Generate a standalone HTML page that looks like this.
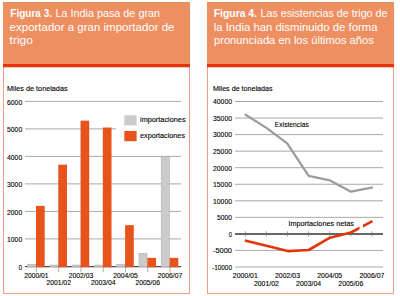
<!DOCTYPE html>
<html><head><meta charset="utf-8"><style>
html,body{margin:0;padding:0;background:#fff;width:400px;height:296px;overflow:hidden}
svg{display:block;font-family:"Liberation Sans", sans-serif}
</style></head><body>
<svg width="400" height="296" viewBox="0 0 400 296">
<rect x="3.5" y="66.5" width="186" height="227.0" fill="none" stroke="#f0a08a" stroke-width="1"/>
<rect x="3" y="2" width="187" height="62" fill="#ee8f62"/>
<rect x="3" y="64" width="187" height="3.3" fill="#e2350c"/>
<rect x="207.5" y="66.5" width="186" height="227.0" fill="none" stroke="#f0a08a" stroke-width="1"/>
<rect x="207" y="2" width="187" height="62" fill="#ee8f62"/>
<rect x="207" y="64" width="187" height="3.3" fill="#e2350c"/>
<text x="10.3" y="16.8" font-size="10.8" font-weight="bold" fill="#fff" text-anchor="start" textLength="41.7" lengthAdjust="spacingAndGlyphs">Figura 3.</text>
<text x="55.5" y="16.8" font-size="10.8" font-weight="normal" fill="#fff" text-anchor="start" textLength="104.5" lengthAdjust="spacingAndGlyphs">La India pasa de gran</text>
<text x="9.6" y="30.9" font-size="10.8" font-weight="normal" fill="#fff" text-anchor="start" textLength="164.9" lengthAdjust="spacingAndGlyphs">exportador a gran importador de</text>
<text x="9.6" y="44.3" font-size="10.8" font-weight="normal" fill="#fff" text-anchor="start" textLength="23.3" lengthAdjust="spacingAndGlyphs">trigo</text>
<text x="213.75" y="16.8" font-size="10.8" font-weight="bold" fill="#fff" text-anchor="start" textLength="43.25" lengthAdjust="spacingAndGlyphs">Figura 4.</text>
<text x="260.5" y="16.8" font-size="10.8" font-weight="normal" fill="#fff" text-anchor="start" textLength="127" lengthAdjust="spacingAndGlyphs">Las esistencias de trigo de</text>
<text x="213.75" y="30.9" font-size="10.8" font-weight="normal" fill="#fff" text-anchor="start" textLength="163.75" lengthAdjust="spacingAndGlyphs">la India han disminuido de forma</text>
<text x="214" y="44.3" font-size="10.8" font-weight="normal" fill="#fff" text-anchor="start" textLength="159.75" lengthAdjust="spacingAndGlyphs">pronunciada en los últimos años</text>
<text x="7" y="91.1" font-size="8" font-weight="normal" fill="#000" text-anchor="start" stroke="#000" stroke-width="0.12" textLength="60.6" lengthAdjust="spacingAndGlyphs">Miles de toneladas</text>
<text x="22.2" y="269.59999999999997" font-size="7.6" font-weight="normal" fill="#000" text-anchor="end" stroke="#000" stroke-width="0.12" textLength="3.6" lengthAdjust="spacingAndGlyphs">0</text>
<line x1="25" y1="238.89999999999998" x2="181" y2="238.89999999999998" stroke="#a9a9a9" stroke-width="1"/>
<text x="22.2" y="242.09999999999997" font-size="7.6" font-weight="normal" fill="#000" text-anchor="end" stroke="#000" stroke-width="0.12" textLength="15.2" lengthAdjust="spacingAndGlyphs">1000</text>
<line x1="25" y1="211.39999999999998" x2="181" y2="211.39999999999998" stroke="#a9a9a9" stroke-width="1"/>
<text x="22.2" y="214.59999999999997" font-size="7.6" font-weight="normal" fill="#000" text-anchor="end" stroke="#000" stroke-width="0.12" textLength="15.2" lengthAdjust="spacingAndGlyphs">2000</text>
<line x1="25" y1="183.89999999999998" x2="181" y2="183.89999999999998" stroke="#a9a9a9" stroke-width="1"/>
<text x="22.2" y="187.09999999999997" font-size="7.6" font-weight="normal" fill="#000" text-anchor="end" stroke="#000" stroke-width="0.12" textLength="15.2" lengthAdjust="spacingAndGlyphs">3000</text>
<line x1="25" y1="156.39999999999998" x2="181" y2="156.39999999999998" stroke="#a9a9a9" stroke-width="1"/>
<text x="22.2" y="159.59999999999997" font-size="7.6" font-weight="normal" fill="#000" text-anchor="end" stroke="#000" stroke-width="0.12" textLength="15.2" lengthAdjust="spacingAndGlyphs">4000</text>
<line x1="25" y1="128.89999999999998" x2="181" y2="128.89999999999998" stroke="#a9a9a9" stroke-width="1"/>
<text x="22.2" y="132.09999999999997" font-size="7.6" font-weight="normal" fill="#000" text-anchor="end" stroke="#000" stroke-width="0.12" textLength="15.2" lengthAdjust="spacingAndGlyphs">5000</text>
<line x1="25" y1="101.39999999999998" x2="181" y2="101.39999999999998" stroke="#a9a9a9" stroke-width="1"/>
<text x="22.2" y="104.59999999999998" font-size="7.6" font-weight="normal" fill="#000" text-anchor="end" stroke="#000" stroke-width="0.12" textLength="15.2" lengthAdjust="spacingAndGlyphs">6000</text>
<rect x="116" y="110" width="65" height="34" fill="#fff"/>
<rect x="124.3" y="115.3" width="12.3" height="10.1" fill="#cbcbcb"/>
<rect x="124.3" y="131" width="12.3" height="10.2" fill="#e8531c"/>
<text x="140" y="122.2" font-size="7.6" font-weight="normal" fill="#000" text-anchor="start" stroke="#000" stroke-width="0.12" textLength="45.6" lengthAdjust="spacingAndGlyphs">importaciones</text>
<text x="140" y="138.0" font-size="7.6" font-weight="normal" fill="#000" text-anchor="start" stroke="#000" stroke-width="0.12" textLength="45.0" lengthAdjust="spacingAndGlyphs">exportaciones</text>
<line x1="25" y1="266.6" x2="181" y2="266.6" stroke="#4a4a4a" stroke-width="1.4"/>
<line x1="36.4" y1="267.3" x2="36.4" y2="272.3" stroke="#8a8a8a" stroke-width="0.7"/>
<rect x="27.6" y="264.22499999999997" width="8.1" height="2.675000000000034" fill="#cbcbcb" stroke="#b0b0b0" stroke-width="0.6"/>
<rect x="36.0" y="205.89999999999998" width="8.7" height="61.30000000000001" fill="#e8531c"/>
<text x="36.4" y="277.5" font-size="7.6" font-weight="normal" fill="#000" text-anchor="middle" stroke="#000" stroke-width="0.12" textLength="24.5" lengthAdjust="spacingAndGlyphs">2000/01</text>
<line x1="58.67" y1="267.3" x2="58.67" y2="272.3" stroke="#8a8a8a" stroke-width="0.7"/>
<rect x="49.870000000000005" y="265.05" width="8.1" height="1.8499999999999885" fill="#cbcbcb" stroke="#b0b0b0" stroke-width="0.6"/>
<rect x="58.27" y="164.64999999999998" width="8.7" height="102.55000000000001" fill="#e8531c"/>
<text x="58.67" y="285.3" font-size="7.6" font-weight="normal" fill="#000" text-anchor="middle" stroke="#000" stroke-width="0.12" textLength="24.5" lengthAdjust="spacingAndGlyphs">2001/02</text>
<line x1="80.94" y1="267.3" x2="80.94" y2="272.3" stroke="#8a8a8a" stroke-width="0.7"/>
<rect x="72.13999999999999" y="265.05" width="8.1" height="1.8499999999999885" fill="#cbcbcb" stroke="#b0b0b0" stroke-width="0.6"/>
<rect x="80.53999999999999" y="120.64999999999998" width="8.7" height="146.55" fill="#e8531c"/>
<text x="80.94" y="277.5" font-size="7.6" font-weight="normal" fill="#000" text-anchor="middle" stroke="#000" stroke-width="0.12" textLength="24.5" lengthAdjust="spacingAndGlyphs">2002/03</text>
<line x1="103.21000000000001" y1="267.3" x2="103.21000000000001" y2="272.3" stroke="#8a8a8a" stroke-width="0.7"/>
<rect x="94.41" y="265.05" width="8.1" height="1.8499999999999885" fill="#cbcbcb" stroke="#b0b0b0" stroke-width="0.6"/>
<rect x="102.81" y="127.52499999999998" width="8.7" height="139.675" fill="#e8531c"/>
<text x="103.21000000000001" y="285.3" font-size="7.6" font-weight="normal" fill="#000" text-anchor="middle" stroke="#000" stroke-width="0.12" textLength="24.5" lengthAdjust="spacingAndGlyphs">2003/04</text>
<line x1="125.47999999999999" y1="267.3" x2="125.47999999999999" y2="272.3" stroke="#8a8a8a" stroke-width="0.7"/>
<rect x="116.67999999999998" y="264.22499999999997" width="8.1" height="2.675000000000034" fill="#cbcbcb" stroke="#b0b0b0" stroke-width="0.6"/>
<rect x="125.07999999999998" y="225.14999999999998" width="8.7" height="42.05000000000001" fill="#e8531c"/>
<text x="125.47999999999999" y="277.5" font-size="7.6" font-weight="normal" fill="#000" text-anchor="middle" stroke="#000" stroke-width="0.12" textLength="24.5" lengthAdjust="spacingAndGlyphs">2004/05</text>
<line x1="147.75" y1="267.3" x2="147.75" y2="272.3" stroke="#8a8a8a" stroke-width="0.7"/>
<rect x="138.95000000000002" y="253.36249999999998" width="8.1" height="13.537500000000017" fill="#cbcbcb" stroke="#b0b0b0" stroke-width="0.6"/>
<rect x="147.35" y="257.875" width="8.7" height="9.324999999999989" fill="#e8531c"/>
<text x="147.75" y="285.3" font-size="7.6" font-weight="normal" fill="#000" text-anchor="middle" stroke="#000" stroke-width="0.12" textLength="24.5" lengthAdjust="spacingAndGlyphs">2005/06</text>
<line x1="170.02" y1="267.3" x2="170.02" y2="272.3" stroke="#8a8a8a" stroke-width="0.7"/>
<rect x="161.22000000000003" y="156.7" width="8.1" height="110.20000000000002" fill="#cbcbcb" stroke="#b0b0b0" stroke-width="0.6"/>
<rect x="169.62" y="257.875" width="8.7" height="9.324999999999989" fill="#e8531c"/>
<text x="170.02" y="277.5" font-size="7.6" font-weight="normal" fill="#000" text-anchor="middle" stroke="#000" stroke-width="0.12" textLength="24.5" lengthAdjust="spacingAndGlyphs">2006/07</text>
<text x="213" y="91.1" font-size="8" font-weight="normal" fill="#000" text-anchor="start" stroke="#000" stroke-width="0.12" textLength="59.6" lengthAdjust="spacingAndGlyphs">Miles de toneladas</text>
<line x1="235" y1="267.0" x2="383" y2="267.0" stroke="#a9a9a9" stroke-width="1"/>
<text x="232" y="269.8" font-size="7.6" font-weight="normal" fill="#000" text-anchor="end" stroke="#000" stroke-width="0.12" textLength="20" lengthAdjust="spacingAndGlyphs">-10000</text>
<line x1="235" y1="250.45000000000002" x2="383" y2="250.45000000000002" stroke="#a9a9a9" stroke-width="1"/>
<text x="232" y="253.25000000000003" font-size="7.6" font-weight="normal" fill="#000" text-anchor="end" stroke="#000" stroke-width="0.12" textLength="19" lengthAdjust="spacingAndGlyphs">-5000</text>
<text x="232" y="236.70000000000002" font-size="7.6" font-weight="normal" fill="#000" text-anchor="end" stroke="#000" stroke-width="0.12" textLength="3.2" lengthAdjust="spacingAndGlyphs">0</text>
<line x1="235" y1="217.35" x2="383" y2="217.35" stroke="#a9a9a9" stroke-width="1"/>
<text x="232" y="220.15" font-size="7.6" font-weight="normal" fill="#000" text-anchor="end" stroke="#000" stroke-width="0.12" textLength="15" lengthAdjust="spacingAndGlyphs">5000</text>
<line x1="235" y1="200.8" x2="383" y2="200.8" stroke="#a9a9a9" stroke-width="1"/>
<text x="232" y="203.60000000000002" font-size="7.6" font-weight="normal" fill="#000" text-anchor="end" stroke="#000" stroke-width="0.12" textLength="19" lengthAdjust="spacingAndGlyphs">10000</text>
<line x1="235" y1="184.25" x2="383" y2="184.25" stroke="#a9a9a9" stroke-width="1"/>
<text x="232" y="187.05" font-size="7.6" font-weight="normal" fill="#000" text-anchor="end" stroke="#000" stroke-width="0.12" textLength="19" lengthAdjust="spacingAndGlyphs">15000</text>
<line x1="235" y1="167.7" x2="383" y2="167.7" stroke="#a9a9a9" stroke-width="1"/>
<text x="232" y="170.5" font-size="7.6" font-weight="normal" fill="#000" text-anchor="end" stroke="#000" stroke-width="0.12" textLength="19" lengthAdjust="spacingAndGlyphs">20000</text>
<line x1="235" y1="151.15" x2="383" y2="151.15" stroke="#a9a9a9" stroke-width="1"/>
<text x="232" y="153.95000000000002" font-size="7.6" font-weight="normal" fill="#000" text-anchor="end" stroke="#000" stroke-width="0.12" textLength="19" lengthAdjust="spacingAndGlyphs">25000</text>
<line x1="235" y1="134.60000000000002" x2="383" y2="134.60000000000002" stroke="#a9a9a9" stroke-width="1"/>
<text x="232" y="137.40000000000003" font-size="7.6" font-weight="normal" fill="#000" text-anchor="end" stroke="#000" stroke-width="0.12" textLength="19" lengthAdjust="spacingAndGlyphs">30000</text>
<line x1="235" y1="118.05000000000001" x2="383" y2="118.05000000000001" stroke="#a9a9a9" stroke-width="1"/>
<text x="232" y="120.85000000000001" font-size="7.6" font-weight="normal" fill="#000" text-anchor="end" stroke="#000" stroke-width="0.12" textLength="19" lengthAdjust="spacingAndGlyphs">35000</text>
<line x1="235" y1="101.5" x2="383" y2="101.5" stroke="#a9a9a9" stroke-width="1"/>
<text x="232" y="104.3" font-size="7.6" font-weight="normal" fill="#000" text-anchor="end" stroke="#000" stroke-width="0.12" textLength="19" lengthAdjust="spacingAndGlyphs">40000</text>
<line x1="235" y1="233.9" x2="383" y2="233.9" stroke="#666" stroke-width="2"/>
<line x1="245.3" y1="231.3" x2="245.3" y2="236.5" stroke="#777" stroke-width="0.7"/>
<text x="245.3" y="277.5" font-size="7.6" font-weight="normal" fill="#000" text-anchor="middle" stroke="#000" stroke-width="0.12" textLength="25" lengthAdjust="spacingAndGlyphs">2000/01</text>
<line x1="266.40000000000003" y1="231.3" x2="266.40000000000003" y2="236.5" stroke="#777" stroke-width="0.7"/>
<text x="266.40000000000003" y="286" font-size="7.6" font-weight="normal" fill="#000" text-anchor="middle" stroke="#000" stroke-width="0.12" textLength="25" lengthAdjust="spacingAndGlyphs">2001/02</text>
<line x1="287.5" y1="231.3" x2="287.5" y2="236.5" stroke="#777" stroke-width="0.7"/>
<text x="287.5" y="277.5" font-size="7.6" font-weight="normal" fill="#000" text-anchor="middle" stroke="#000" stroke-width="0.12" textLength="25" lengthAdjust="spacingAndGlyphs">2002/03</text>
<line x1="308.6" y1="231.3" x2="308.6" y2="236.5" stroke="#777" stroke-width="0.7"/>
<text x="308.6" y="286" font-size="7.6" font-weight="normal" fill="#000" text-anchor="middle" stroke="#000" stroke-width="0.12" textLength="25" lengthAdjust="spacingAndGlyphs">2003/04</text>
<line x1="329.70000000000005" y1="231.3" x2="329.70000000000005" y2="236.5" stroke="#777" stroke-width="0.7"/>
<text x="329.70000000000005" y="277.5" font-size="7.6" font-weight="normal" fill="#000" text-anchor="middle" stroke="#000" stroke-width="0.12" textLength="25" lengthAdjust="spacingAndGlyphs">2004/05</text>
<line x1="350.8" y1="231.3" x2="350.8" y2="236.5" stroke="#777" stroke-width="0.7"/>
<text x="350.8" y="286" font-size="7.6" font-weight="normal" fill="#000" text-anchor="middle" stroke="#000" stroke-width="0.12" textLength="25" lengthAdjust="spacingAndGlyphs">2005/06</text>
<line x1="371.90000000000003" y1="231.3" x2="371.90000000000003" y2="236.5" stroke="#777" stroke-width="0.7"/>
<text x="371.90000000000003" y="277.5" font-size="7.6" font-weight="normal" fill="#000" text-anchor="middle" stroke="#000" stroke-width="0.12" textLength="25" lengthAdjust="spacingAndGlyphs">2006/07</text>
<polyline points="244.8,114.3 266.4,127.9 287.2,143.3 308.7,175.8 330.0,180.4 351.0,191.7 373.0,187.3" fill="none" stroke="#9c9c9c" stroke-width="2.3" stroke-linejoin="round"/>
<polyline points="244.8,240.5 266.4,245.8 287.7,251.1 308.7,250.0 330.0,237.7 351.0,232.5 372.4,221.1" fill="none" stroke="#e2350c" stroke-width="2.6" stroke-linejoin="round"/>
<rect x="359.5" y="223" width="3.5" height="8" fill="#fff"/>
<text x="274.8" y="126.7" font-size="8" font-weight="normal" fill="#000" text-anchor="start" stroke="#000" stroke-width="0.12" textLength="34" lengthAdjust="spacingAndGlyphs">Existencias</text>
<text x="288.4" y="226.0" font-size="8" font-weight="normal" fill="#000" text-anchor="start" stroke="#000" stroke-width="0.12" textLength="65.6" lengthAdjust="spacingAndGlyphs">Importaciones netas</text>
</svg>
</body></html>
